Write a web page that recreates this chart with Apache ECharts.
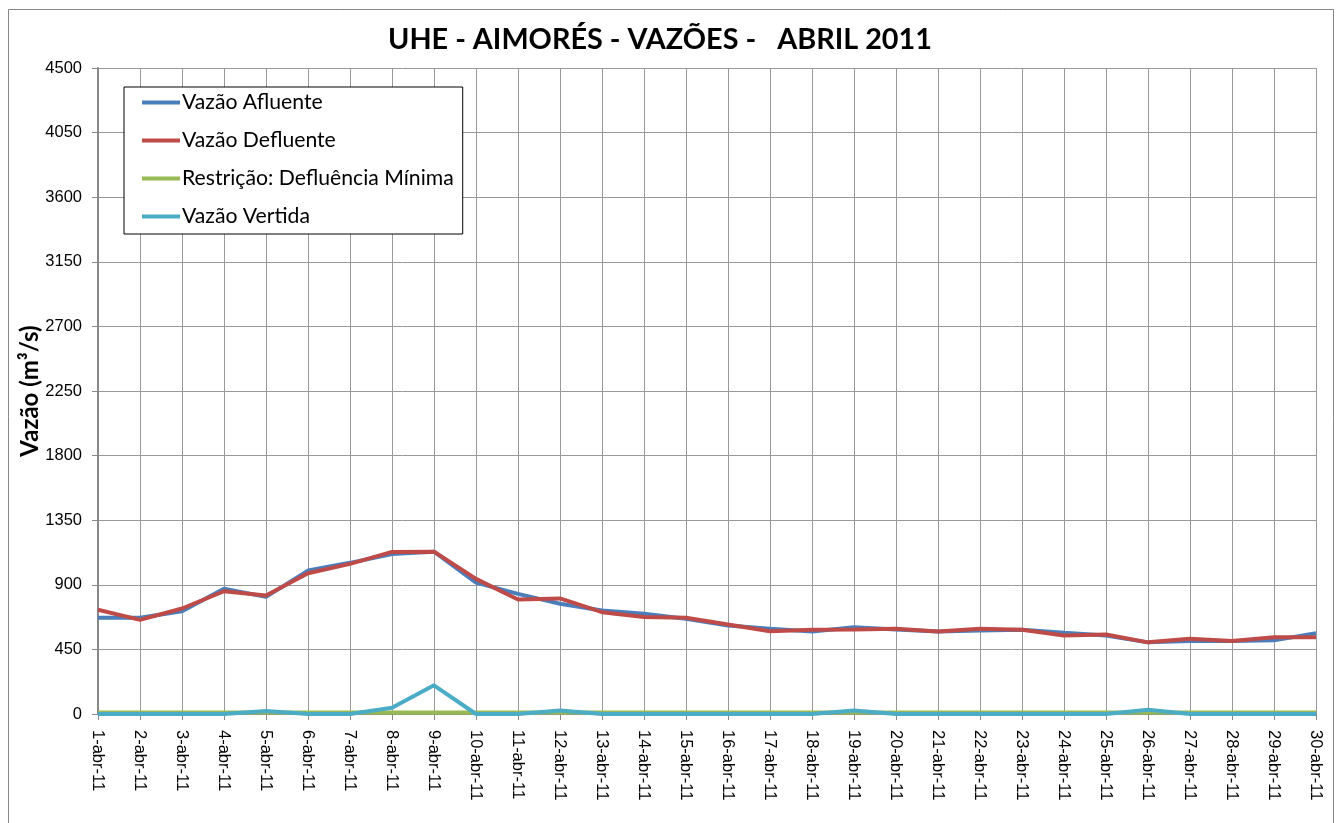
<!DOCTYPE html>
<html><head><meta charset="utf-8">
<script src="https://cdn.jsdelivr.net/npm/echarts@6/dist/echarts.min.js"></script>
<style>html,body{margin:0;padding:0;background:#fff}#c{width:1340px;height:823px}</style>
</head><body><div id="c"></div>
<script>
const categories = ['1-abr-11','2-abr-11','3-abr-11','4-abr-11','5-abr-11','6-abr-11','7-abr-11','8-abr-11','9-abr-11','10-abr-11','11-abr-11','12-abr-11','13-abr-11','14-abr-11','15-abr-11','16-abr-11','17-abr-11','18-abr-11','19-abr-11','20-abr-11','21-abr-11','22-abr-11','23-abr-11','24-abr-11','25-abr-11','26-abr-11','27-abr-11','28-abr-11','29-abr-11','30-abr-11'];
const afluente = [670,670,716,872,816,999,1053,1115,1131,915,837,768,721,698,663,617,594,575,605,589,575,582,587,566,547,499,508,508,513,563];
const defluente = [726,656,735,855,825,980,1046,1129,1131,941,798,805,709,675,670,624,577,587,589,594,575,594,587,547,554,499,524,508,535,535];
const restricao = [10,10,10,10,10,10,10,10,10,10,10,10,10,10,10,10,10,10,10,10,10,10,10,10,10,10,10,10,10,10];
const vertida = [0,0,0,0,21,0,0,44,200,0,0,25,0,0,0,0,0,0,25,0,0,0,0,0,0,30,0,0,0,0];
const seriesNames = ['Vazão Afluente','Vazão Defluente','Restrição: Defluência Mínima','Vazão Vertida'];
const colors = ['#4A7EBB','#BE4B48','#98B954','#4BACC6'];
const titleText = 'UHE - AIMORÉS - VAZÕES -   ABRIL 2011';
const yName = 'Vazão (m³/s)';

const chart = echarts.init(document.getElementById('c'));
const dataSets = [afluente, defluente, restricao, vertida];
chart.setOption({
  animation: false,
  backgroundColor: '#fff',
  title: {
    text: titleText, left: 383, top: 20,
    textStyle: {fontFamily: 'Lato', fontWeight: 'bold', fontSize: 28.8, color: '#000'}
  },
  graphic: [{
    type: 'rect', shape: {x: 8.5, y: 9.5, width: 1325, height: 830},
    style: {fill: 'none', stroke: '#888', lineWidth: 1}, z: -1
  }],
  legend: {
    orient: 'vertical', left: 124, top: 87,
    padding: [5, 9, 7, 18],
    itemGap: 17,
    itemWidth: 38, itemHeight: 4,
    icon: 'rect',
    backgroundColor: '#fff',
    borderColor: '#000', borderWidth: 1,
    textStyle: {fontFamily: 'Lato', fontSize: 21.2, color: '#000', padding: [0,0,0,-3]},
    data: seriesNames
  },
  grid: {left: 98, right: 24, top: 68, bottom: 109, containLabel: false},
  xAxis: {
    type: 'category', data: categories, boundaryGap: false,
    axisLine: {lineStyle: {color: '#888', width: 2}},
    axisTick: {show: true, length: 6, alignWithLabel: true, lineStyle: {color: '#888'}},
    axisLabel: {rotate: -90, fontFamily: 'Liberation Sans', fontSize: 16.5, color: '#000', margin: 16, interval: 0},
    splitLine: {show: true, lineStyle: {color: '#999', width: 1}}
  },
  yAxis: {
    type: 'value', min: 0, max: 4500, interval: 450,
    name: yName, nameLocation: 'middle', nameGap: 56, nameMoveOverlap: false,
    nameTextStyle: {fontFamily: 'Lato', fontWeight: 'bold', fontSize: 24, color: '#000'},
    axisLine: {show: true, lineStyle: {color: '#888', width: 2}},
    axisTick: {show: true, length: 6, lineStyle: {color: '#888'}},
    axisLabel: {fontFamily: 'Liberation Sans', fontSize: 16.5, color: '#000', margin: 16, formatter: v => String(v)},
    splitLine: {show: true, lineStyle: {color: '#999', width: 1}}
  },
  series: seriesNames.map((n, i) => ({
    name: n, type: 'line', data: dataSets[i], symbol: 'none',
    lineStyle: {color: colors[i], width: 4}, itemStyle: {color: colors[i]},
    z: 2 + i
  }))
});
</script></body></html>
